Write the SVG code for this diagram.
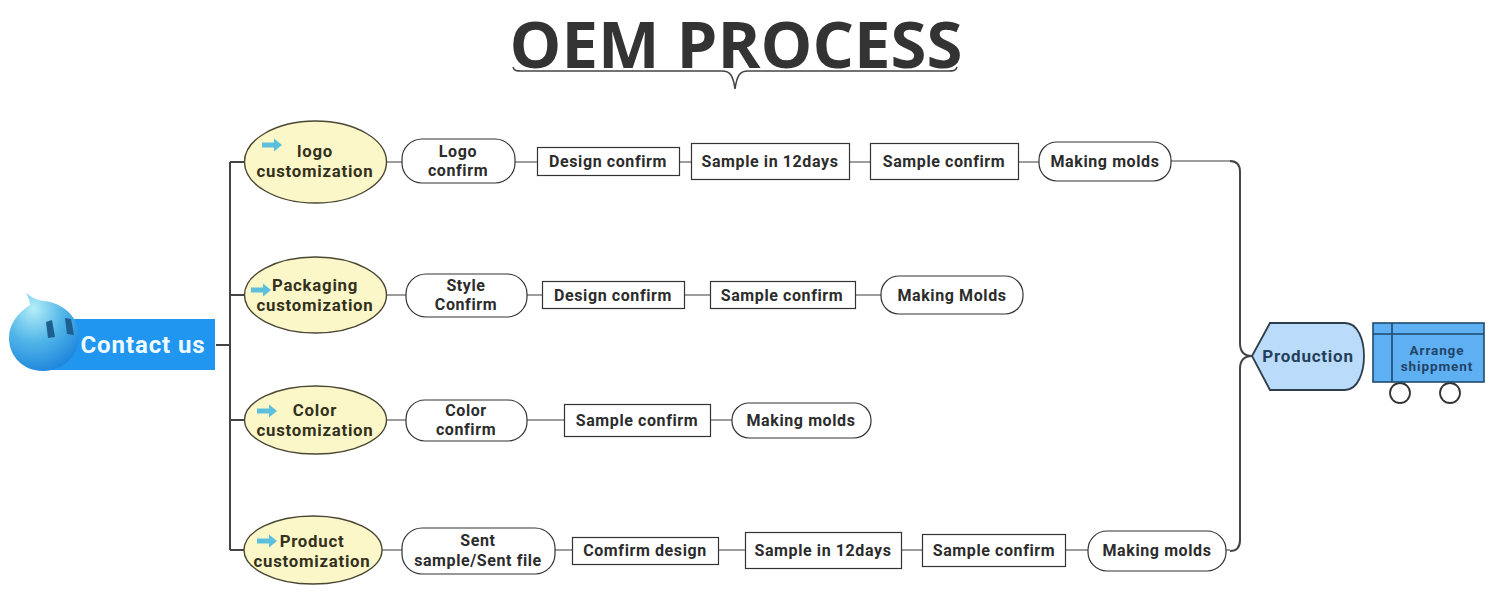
<svg xmlns="http://www.w3.org/2000/svg" width="1498" height="610" viewBox="0 0 1498 610">
<style>
text{font-family:Roboto,"Open Sans","DejaVu Sans",sans-serif;font-weight:700;text-anchor:middle}
.l{font-size:16px;letter-spacing:.6px;fill:#2c2c2c}
.o{font-size:16.800px;letter-spacing:.75px;fill:#33301c}
.r{fill:#fff;stroke:#333;stroke-width:1.2}
.e{fill:#fbf7c8;stroke:#4a4632;stroke-width:1.4}
.c{fill:none;stroke:#3c3c3c;stroke-width:1.2}
.b{fill:none;stroke:#444;stroke-width:2}
</style>
<defs>
<radialGradient id="blob" cx="0.35" cy="0.2" r="0.85"><stop offset="0" stop-color="#b4eef8"/><stop offset="0.5" stop-color="#52b6e8"/><stop offset="1" stop-color="#1c84dc"/></radialGradient>
<g id="arr"><path d="M0 -2.500H12V-6.500L20 0L12 6.500V2.500H0Z" fill="#5cc0dc"/></g>
</defs>
<rect width="1498" height="610" fill="#fff"/>
<text x="736" y="68" style="font-family:'Open Sans','Noto Sans',sans-serif;font-size:64px;fill:#333" textLength="453" lengthAdjust="spacingAndGlyphs">OEM PROCESS</text>
<g id="connectors">
<path class="b" style="stroke-width:1.500" d="M513 67C514 71 517 71 521 71H722C730 71 733 75 735 89C737 75 740 71 748 71H948C953 71 956 71 957 67"/>
<path class="b" d="M216 345H230M230 162V550M230 162H245M230 295H245M230 420H245M230 550H245"/>
<path class="b" d="M1230 161C1237 161 1240 165 1240 172V343C1240 351 1244 356 1252 356C1244 356 1240 361 1240 369V540C1240 547 1237 551 1230 551"/>
<path class="c" d="M386 162H402M515 162H537M680 162H691M850 162H870M1019 162H1039M1171 161H1230"/>
<path class="c" d="M386 295H406M527 295H542M685 295H710M856 295H881"/>
<path class="c" d="M386 420H406M527 420H564M711 420H732"/>
<path class="c" d="M382 550H402M555 550H572M719 550H745M902 550H922M1066 550H1088M1226 550H1230"/>
</g>
<g id="contact"><path d="M60 319H215V370H48Z" fill="#2196f0"/>
<path d="M26 293C31 297 36 300 44 301C64 303 79 318 79 336C79 356 63 371 43 371C23 371 9 356 9 338C9 323 19 312 30 305C30 301 28 297 26 293Z" fill="url(#blob)"/>
<path d="M46 322L52 320L55 337L48 338Z M65 318L71 319L74 335L67 334Z" fill="#1d5f8e"/>
<text x="143" y="353" style="font-size:24px;letter-spacing:.9px;fill:#eefaff">Contact us</text></g>
<g id="logo"><ellipse class="e" cx="315.500" cy="162" rx="71" ry="41"/><use href="#arr" x="262" y="145"/><text class="o"><tspan x="315" y="157">logo</tspan><tspan x="315" y="177">customization</tspan></text></g>
<g id="packaging"><ellipse class="e" cx="315.500" cy="295" rx="71" ry="38"/><use href="#arr" x="251" y="290"/><text class="o"><tspan x="315" y="291">Packaging</tspan><tspan x="315" y="311">customization</tspan></text></g>
<g id="color"><ellipse class="e" cx="315.500" cy="420" rx="71" ry="34"/><use href="#arr" x="257" y="411"/><text class="o"><tspan x="315" y="416">Color</tspan><tspan x="315" y="436">customization</tspan></text></g>
<g id="product"><ellipse class="e" cx="313" cy="550" rx="69" ry="34"/><use href="#arr" x="257" y="541"/><text class="o"><tspan x="312" y="547">Product</tspan><tspan x="312" y="567">customization</tspan></text></g>
<g id="r1a"><rect class="r" x="402" y="139" width="113" height="44" rx="20"/><text class="l"><tspan x="458" y="157">Logo</tspan><tspan x="458" y="176">confirm</tspan></text></g>
<g id="r1b"><rect class="r" x="537.500" y="147.500" width="142" height="28"/><text class="l" x="608" y="167">Design confirm</text></g>
<g id="r1c"><rect class="r" x="691.500" y="143.500" width="158" height="36"/><text class="l" x="770" y="167">Sample in 12days</text></g>
<g id="r1d"><rect class="r" x="870.500" y="143.500" width="148" height="36"/><text class="l" x="944" y="167">Sample confirm</text></g>
<g id="r1e"><rect class="r" x="1039" y="142" width="132" height="39" rx="18"/><text class="l" x="1105" y="167">Making molds</text></g>
<g id="r2a"><rect class="r" x="406" y="274" width="121" height="43" rx="20"/><text class="l"><tspan x="466" y="291">Style</tspan><tspan x="466" y="310">Confirm</tspan></text></g>
<g id="r2b"><rect class="r" x="542.500" y="281.500" width="142" height="27"/><text class="l" x="613" y="301">Design confirm</text></g>
<g id="r2c"><rect class="r" x="710.500" y="281.500" width="145" height="27"/><text class="l" x="782" y="301">Sample confirm</text></g>
<g id="r2d"><rect class="r" x="881" y="276" width="142" height="38" rx="18"/><text class="l" x="952" y="301">Making Molds</text></g>
<g id="r3a"><rect class="r" x="406" y="400" width="121" height="41" rx="19"/><text class="l"><tspan x="466" y="416">Color</tspan><tspan x="466" y="435">confirm</tspan></text></g>
<g id="r3b"><rect class="r" x="564.500" y="404.500" width="146" height="32"/><text class="l" x="637" y="426">Sample confirm</text></g>
<g id="r3c"><rect class="r" x="732" y="403" width="139" height="35" rx="17"/><text class="l" x="801" y="426">Making molds</text></g>
<g id="r4a"><rect class="r" x="402" y="528" width="153" height="46" rx="20"/><text class="l"><tspan x="478" y="546">Sent</tspan><tspan x="478" y="566">sample/Sent file</tspan></text></g>
<g id="r4b"><rect class="r" x="572.500" y="537.500" width="146" height="27"/><text class="l" x="645" y="556">Comfirm design</text></g>
<g id="r4c"><rect class="r" x="745.500" y="532.500" width="156" height="36"/><text class="l" x="823" y="556">Sample in 12days</text></g>
<g id="r4d"><rect class="r" x="922.500" y="534.500" width="143" height="32"/><text class="l" x="994" y="556">Sample confirm</text></g>
<g id="r4e"><rect class="r" x="1088" y="531" width="138" height="40" rx="19"/><text class="l" x="1157" y="556">Making molds</text></g>
<g id="production"><path d="M1252 356L1270 323H1345C1358 323 1364 340 1364 356C1364 372 1358 390 1345 390H1270Z" fill="#badcfa" stroke="#2f3e4c" stroke-width="1.800"/><text x="1308" y="362" style="font-size:17px;letter-spacing:.75px;fill:#24405a">Production</text></g>
<g id="shipment"><circle cx="1400" cy="393" r="10" fill="#fff" stroke="#333" stroke-width="1.800"/><circle cx="1450" cy="393" r="10" fill="#fff" stroke="#333" stroke-width="1.800"/><rect x="1373" y="323" width="111" height="59" fill="#5fb0f2" stroke="#1f4a6e" stroke-width="1.600"/><path d="M1392 323V382M1373 334H1484" stroke="#1f4a6e" stroke-width="1.600" fill="none"/><text style="font-size:13.500px;letter-spacing:.9px;fill:#1f4468"><tspan x="1437" y="355">Arrange</tspan><tspan x="1437" y="371">shippment</tspan></text></g>
</svg>
